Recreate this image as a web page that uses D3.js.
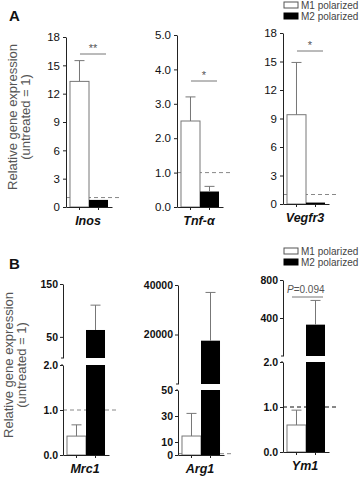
<!DOCTYPE html>
<html>
<head>
<meta charset="utf-8">
<script src="https://cdn.jsdelivr.net/npm/d3@7"></script>
<style>
  body { margin: 0; background: #fff; }
  svg text { font-family: "Liberation Sans", Arial, sans-serif; }
</style>
</head>
<body>
<div id="chart"></div>
<script>
// Panel A data (M1 / M2 means and upper error)
const genesA = ["Inos", "Tnf-α", "Vegfr3"];
const m1A = [13.3, 2.5, 9.4];
const m1ErrA = [15.5, 3.2, 14.9];
const m2A = [0.75, 0.45, 0.15];
const m2ErrA = [0.75, 0.6, 0.15];
const ticksA = [[0, 3, 6, 9, 12, 15, 18], [0, 1, 2, 3, 4, 5], [0, 3, 6, 9, 12, 15, 18]];
const sigA = ["**", "*", "*"];

// Panel B data (broken axes: lower + upper segment)
const genesB = ["Mrc1", "Arg1", "Ym1"];
const m1B = [0.42, 14.6, 0.6];
const m1ErrB = [0.67, 32, 0.93];
const m2B = [63, 17500, 330];
const m2ErrB = [110, 37000, 585];
const lowTicksB = [[0, 1, 2], [0, 10, 30, 50], [0, 1, 2]];
const upTicksB = [[50, 150], [20000, 40000], [400, 800]];
const lowDomB = [[0, 2], [0, 50], [0, 2]];
const upDomB = [[10, 150], [0, 40000], [0, 800]];
const sigB = ["", "", "P=0.094"];

const legendLabels = ["M1 polarized", "M2 polarized"];

const W = 362, H = 480;
const svg = d3.select("#chart").append("svg")
    .attr("width", W)
    .attr("height", H);

const axisColor = "#222";
const grey = "#777";

function xScaleFor(ax) {
  return d3.scaleBand().domain(["M1", "M2"])
    .range([ax, ax + 46])
    .paddingInner(0)
    .paddingOuter(0.21);
}

function drawXAxis(g, x, y0) {
  const xa = g.append("g")
    .attr("transform", `translate(0,${y0})`)
    .call(d3.axisBottom(x).tickSize(3).tickSizeOuter(0).tickFormat(""));
  xa.select(".domain").attr("stroke", axisColor);
  xa.selectAll(".tick line").attr("stroke", axisColor);
}

function styleY(sel, size, weight) {
  sel.select(".domain").attr("stroke", axisColor);
  sel.selectAll(".tick line").attr("stroke", axisColor);
  sel.selectAll(".tick text")
    .attr("fill", "#111")
    .style("font-size", size)
    .style("font-weight", weight);
}

function errBar(g, cx, yTop, yVal) {
  g.append("line").attr("x1", cx).attr("x2", cx)
    .attr("y1", yVal).attr("y2", yTop).attr("stroke", grey);
  g.append("line").attr("x1", cx - 5).attr("x2", cx + 5)
    .attr("y1", yTop).attr("y2", yTop).attr("stroke", grey);
}

function geneLabel(g, x, y, txt) {
  g.append("text")
    .attr("x", x).attr("y", y)
    .attr("text-anchor", "middle")
    .style("font-size", "12.5px")
    .style("font-style", "italic")
    .style("font-weight", "bold")
    .attr("fill", "#111")
    .text(txt);
}

// ---------- Panel A ----------
const axA = [66, 177, 283];
const baseA = [207, 207, 204];
const topA = [37, 35, 33];

genesA.forEach((gene, i) => {
  const g = svg.append("g");
  const x = xScaleFor(axA[i]);
  const tks = ticksA[i];
  const y = d3.scaleLinear().domain([0, tks[tks.length - 1]]).range([baseA[i], topA[i]]);

  // dashed reference line at 1
  g.append("line")
    .attr("x1", axA[i]).attr("x2", axA[i] + 56)
    .attr("y1", y(1)).attr("y2", y(1))
    .attr("stroke", "#888").attr("stroke-dasharray", "4,3");

  // bars
  g.append("rect")
    .attr("x", x("M1")).attr("width", x.bandwidth())
    .attr("y", y(m1A[i])).attr("height", y(0) - y(m1A[i]))
    .attr("fill", "#fff").attr("stroke", grey);
  g.append("rect")
    .attr("x", x("M2")).attr("width", x.bandwidth())
    .attr("y", y(m2A[i])).attr("height", y(0) - y(m2A[i]))
    .attr("fill", "#000");

  errBar(g, x("M1") + x.bandwidth() / 2, y(m1ErrA[i]), y(m1A[i]));
  if (m2ErrA[i] > m2A[i]) errBar(g, x("M2") + x.bandwidth() / 2, y(m2ErrA[i]), y(m2A[i]));

  // significance
  const sy = [54, 81, 51][i];
  const sx1 = x("M1") + 10, sx2 = x("M2") + x.bandwidth() - 2;
  g.append("line").attr("x1", sx1).attr("x2", sx2)
    .attr("y1", sy).attr("y2", sy).attr("stroke", grey);
  g.append("text")
    .attr("x", (sx1 + sx2) / 2).attr("y", sy - 2)
    .attr("text-anchor", "middle")
    .style("font-size", "11px")
    .attr("fill", "#555")
    .text(sigA[i]);

  const ya = g.append("g")
    .attr("transform", `translate(${axA[i]},0)`)
    .call(d3.axisLeft(y).tickValues(tks).tickSize(3).tickSizeOuter(0).tickPadding(3));
  styleY(ya, "11.5px", "normal");

  drawXAxis(g, x, baseA[i]);
  geneLabel(g, axA[i] + 22, baseA[i] + 18, gene);
});

// ---------- Panel B ----------
const axB = [63, 178, 283];
const lowRangeB = [[455, 365], [455, 390], [452, 362]];
const upRangeB = [[358, 284], [384, 285], [356, 280]];

genesB.forEach((gene, i) => {
  const g = svg.append("g");
  const x = xScaleFor(axB[i]);
  const yl = d3.scaleLinear().domain(lowDomB[i]).range(lowRangeB[i]);
  const yu = d3.scaleLinear().domain(upDomB[i]).range(upRangeB[i]);
  const lowTop = lowDomB[i][1];
  const upBot = upDomB[i][0];

  // dashed reference line at 1
  g.append("line")
    .attr("x1", axB[i]).attr("x2", axB[i] + 56)
    .attr("y1", yl(1)).attr("y2", yl(1))
    .attr("stroke", i === 2 ? "#111" : "#888").attr("stroke-dasharray", "4,3");

  // M1 bar (lower segment)
  g.append("rect")
    .attr("x", x("M1")).attr("width", x.bandwidth())
    .attr("y", yl(m1B[i])).attr("height", yl(0) - yl(m1B[i]))
    .attr("fill", "#fff").attr("stroke", grey);
  errBar(g, x("M1") + x.bandwidth() / 2, yl(m1ErrB[i]), yl(m1B[i]));

  // M2 bar: lower part clipped to segment top, upper part to value
  g.append("rect")
    .attr("x", x("M2")).attr("width", x.bandwidth())
    .attr("y", yl(lowTop)).attr("height", yl(0) - yl(lowTop))
    .attr("fill", "#000");
  g.append("rect")
    .attr("x", x("M2")).attr("width", x.bandwidth())
    .attr("y", yu(m2B[i])).attr("height", yu(upBot) - yu(m2B[i]))
    .attr("fill", "#000");
  errBar(g, x("M2") + x.bandwidth() / 2, yu(m2ErrB[i]), yu(m2B[i]));

  // significance
  if (sigB[i]) {
    const sy = 297;
    const sx1 = x("M1") + 5, sx2 = x("M2") + x.bandwidth() - 2;
    g.append("line").attr("x1", sx1).attr("x2", sx2)
      .attr("y1", sy).attr("y2", sy).attr("stroke", grey);
    const t = g.append("text")
      .attr("x", axB[i] + 4).attr("y", sy - 4)
      .style("font-size", "10px")
      .attr("fill", "#555");
    t.append("tspan").style("font-style", "italic").text(sigB[i].slice(0, 1));
    t.append("tspan").text(sigB[i].slice(1));
  }

  const fmt = i === 1 ? d3.format("d") : d3.format(".1f");
  const yla = g.append("g")
    .attr("transform", `translate(${axB[i]},0)`)
    .call(d3.axisLeft(yl).tickValues(lowTicksB[i]).tickFormat(fmt)
      .tickSize(3).tickSizeOuter(0).tickPadding(2));
  styleY(yla, "10.5px", "bold");

  const yua = g.append("g")
    .attr("transform", `translate(${axB[i]},0)`)
    .call(d3.axisLeft(yu).tickValues(upTicksB[i]).tickFormat(d3.format("d"))
      .tickSize(3).tickSizeOuter(0).tickPadding(2));
  styleY(yua, "10.5px", "bold");

  // little break marks at segment ends
  [upRangeB[i][0], lowRangeB[i][1]].forEach(yy => {
    g.append("line").attr("x1", axB[i]).attr("x2", axB[i] - 2)
      .attr("y1", yy).attr("y2", yy).attr("stroke", axisColor);
  });

  drawXAxis(g, x, lowRangeB[i][0]);
  geneLabel(g, axB[i] + 22, lowRangeB[i][0] + 18, gene);
});

// ---------- Y labels ----------
[[117, 17, 30], [365, 13, 26]].forEach(([cy, x1, x2]) => {
  [[x1, "Relative gene expression"], [x2, "(untreated = 1)"]].forEach(([xx, txt]) => {
    svg.append("text")
      .attr("transform", `translate(${xx},${cy}) rotate(-90)`)
      .attr("text-anchor", "middle")
      .style("font-size", "13px")
      .attr("fill", "#555")
      .text(txt);
  });
});

// ---------- Panel letters ----------
[["A", 21], ["B", 269]].forEach(([lab, yy]) => {
  svg.append("text")
    .attr("x", 9).attr("y", yy)
    .style("font-size", "15px")
    .style("font-weight", "bold")
    .attr("fill", "#111")
    .text(lab);
});

// ---------- Legends ----------
[2, 248].forEach(ly => {
  legendLabels.forEach((lab, k) => {
    const yy = ly + k * 11;
    svg.append("rect")
      .attr("x", 284).attr("y", yy)
      .attr("width", 14).attr("height", 6)
      .attr("fill", k === 0 ? "#fff" : "#000")
      .attr("stroke", k === 0 ? "#555" : "#000");
    svg.append("text")
      .attr("x", 301).attr("y", yy + 7)
      .style("font-size", "10px")
      .attr("fill", "#444")
      .text(lab);
  });
});
</script>
</body>
</html>
